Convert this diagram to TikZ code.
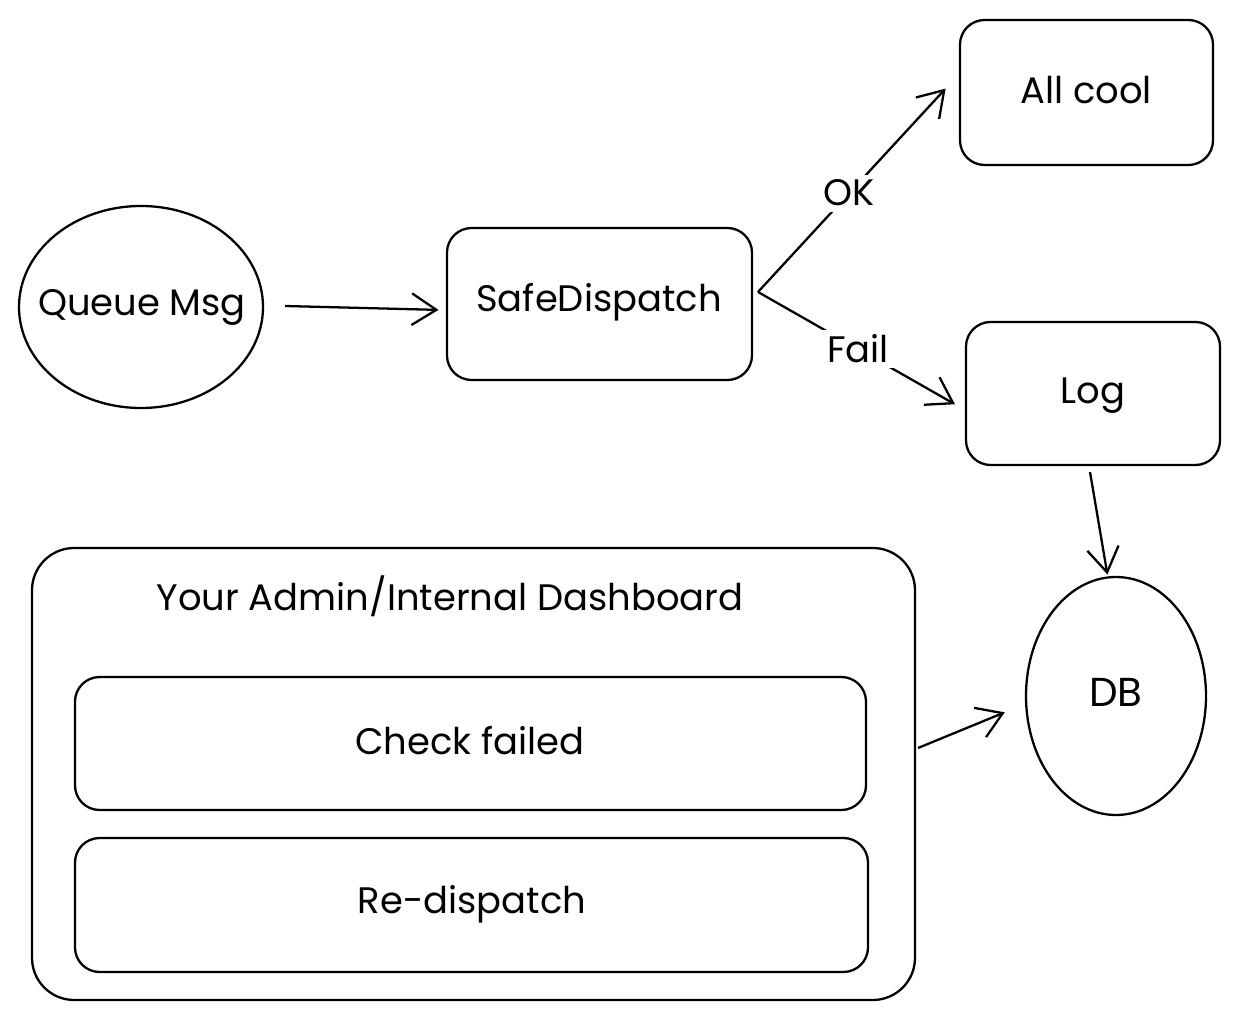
\documentclass[tikz,border=0pt]{standalone}
\usepackage{fontspec}
\setmainfont{Poppins}
\usetikzlibrary{arrows.meta,shapes.geometric}
\begin{document}
\begin{tikzpicture}[x=0.02cm,y=-0.02cm,
  ink/.style={draw=black,line width=1.3pt},
  box/.style={ink,rounded corners=14pt},
  lbl/.style={font=\fontsize{21}{25}\selectfont},
  conn/.style={ink,-{Straight Barb[length=14pt,width=18pt,line width=1.3pt]},shorten >=2pt},
  tag/.style={lbl,fill=white,inner sep=3pt}]
\useasboundingbox (0,0) rectangle (1241,1020);

% nodes
\draw[ink] (141,307) ellipse [x radius=122,y radius=101];
\node[lbl] (queue) at (142,307) {Queue Msg};
\coordinate (queueE) at (285,306);

\draw[box] (447,228) rectangle (752,380);
\node[lbl] (safe) at (599,302) {SafeDispatch};
\coordinate (safeE) at (758,292);
\coordinate (safeW) at (442,310);

\draw[box] (960,20) rectangle (1213,165);
\node[lbl] (cool) at (1086,90) {All cool};
\coordinate (coolW) at (948,86);

\draw[box] (966,322) rectangle (1220,465);
\node[lbl] (log) at (1093,396) {Log};
\coordinate (logW) at (958,406);
\coordinate (logS) at (1090,472);

\draw[ink] (1116,696) ellipse [x radius=90,y radius=119];
\node[lbl,font=\fontsize{23}{27}\selectfont] (db) at (1116,692) {DB};
\coordinate (dbN) at (1108,578);
\coordinate (dbW) at (1008,711);

\draw[box,rounded corners=24pt] (32,548) rectangle (915,1000);
\node[lbl] (dash) at (450,596) {Your Admin/Internal Dashboard};
\coordinate (dashE) at (918,748);

\draw[box] (75,677) rectangle (866,810);
\node[lbl] (check) at (470,741) {Check failed};

\draw[box] (75,838) rectangle (868,972);
\node[lbl] (redisp) at (472,904) {Re-dispatch};

% connectors
\draw[conn] (queueE) -- (safeW);
\draw[conn] (safeE) -- node[tag,pos=0.48] (ok) {OK} (coolW);
\draw[conn] (safeE) -- node[tag,pos=0.5] (fail) {Fail} (logW);
\draw[conn] (logS) -- (dbN);
\draw[conn] (dashE) -- (dbW);
\end{tikzpicture}
\end{document}
